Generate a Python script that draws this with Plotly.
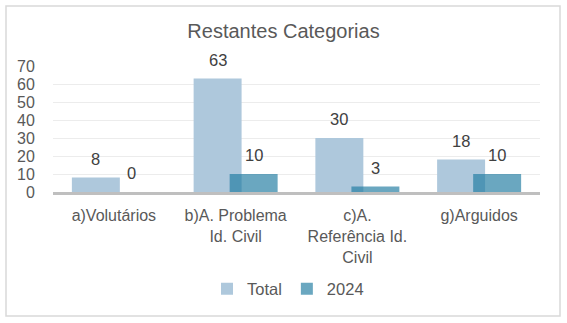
import plotly.graph_objects as go

# ---- data ----
categories = ["a)Volutários", "b)A. Problema<br>Id. Civil", "c)A.<br>Referência Id.<br>Civil", "g)Arguidos"]
total_values = [8, 63, 30, 18]
y2024_values = [0, 10, 3, 10]
series_names = ["Total", "2024"]
y_ticks = [0, 10, 20, 30, 40, 50, 60, 70]

# ---- layout geometry (pixels) ----
W, H = 567, 323
ML, MR, MT, MB = 53, 27, 66, 131
PW, PH = W - ML - MR, H - MT - MB

def px_x(p):
    return (p - ML) / PW

def px_y(p):
    return (H - MB - p) / PH

FONT = "Liberation Sans, Arial, sans-serif"
TXT = "#595959"

BAR_W = 0.394
OFF_TOTAL = -0.345
OFF_2024 = -0.049
LBL_SHIFT = 0.148

xs = list(range(len(categories)))

fig = go.Figure()
fig.add_trace(go.Bar(
    x=xs, y=total_values, name=series_names[0],
    width=BAR_W, offset=OFF_TOTAL,
    marker=dict(color="#aec8dc", line=dict(width=0)),
))
fig.add_trace(go.Bar(
    x=xs, y=y2024_values, name=series_names[1],
    width=BAR_W, offset=OFF_2024,
    marker=dict(color="rgba(33,124,161,0.67)", line=dict(width=0)),
))

annotations = []
for i, v in enumerate(total_values):
    annotations.append(dict(x=i - LBL_SHIFT, y=v, xref="x", yref="y", text=str(v),
                            showarrow=False, yanchor="bottom", yshift=8,
                            font=dict(family=FONT, size=16.5, color="#404040")))
for i, v in enumerate(y2024_values):
    annotations.append(dict(x=i + LBL_SHIFT, y=v, xref="x", yref="y", text=str(v),
                            showarrow=False, yanchor="bottom", yshift=8,
                            font=dict(family=FONT, size=16.5, color="#404040")))

fig.update_layout(
    width=W, height=H,
    margin=dict(l=ML, r=MR, t=MT, b=MB, pad=0),
    paper_bgcolor="white", plot_bgcolor="white",
    barmode="overlay",
    title=dict(text="Restantes Categorias", x=0.5, xref="container", xanchor="center",
               y=1 - 31 / H, yref="container", yanchor="middle",
               font=dict(family=FONT, size=20, color=TXT)),
    xaxis=dict(range=[-0.5, len(categories) - 0.5], tickmode="array", tickvals=xs,
               ticktext=categories, showgrid=False, zeroline=False,
               showline=True, linecolor="#bfbfbf", linewidth=3,
               ticks="outside", ticklen=7, tickcolor="rgba(0,0,0,0)",
               tickfont=dict(family=FONT, size=16, color=TXT), tickangle=0),
    yaxis=dict(range=[0, 70], tickmode="array", tickvals=y_ticks,
               showgrid=True, gridcolor="#ececec", gridwidth=1, zeroline=False,
               showline=False, ticks="outside", ticklen=14, tickcolor="rgba(0,0,0,0)",
               tickfont=dict(family=FONT, size=16, color=TXT)),
    legend=dict(orientation="h", x=px_x(288), xanchor="center", y=px_y(289), yanchor="middle",
                font=dict(family=FONT, size=16.5, color=TXT), bgcolor="rgba(0,0,0,0)"),
    annotations=annotations,
    shapes=[dict(type="rect", xref="paper", yref="paper",
                 x0=px_x(6), x1=px_x(560), y0=px_y(316), y1=px_y(6),
                 line=dict(color="#d9d9d9", width=1.5), fillcolor="rgba(0,0,0,0)", layer="below")],
)

fig.write_html("out.html")
